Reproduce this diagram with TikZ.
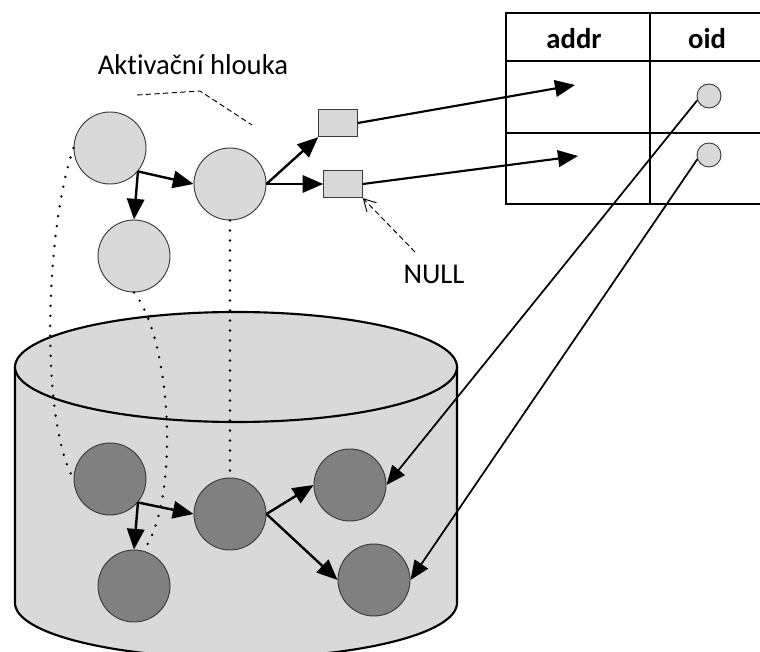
\documentclass[tikz,border=0pt]{standalone}
\usepackage{fontspec}
\setmainfont{Carlito}[Ligatures=NoCommon]
\usetikzlibrary{arrows.meta}
\definecolor{lightfill}{HTML}{D9D9D9}
\definecolor{darkfill}{HTML}{808080}
\definecolor{rim}{HTML}{3A3A3A}

\begin{document}
\begin{tikzpicture}[x=0.75pt,y=-0.75pt,
  lc/.style={circle, draw=rim, line width=0.7pt, fill=lightfill, minimum size=54pt, inner sep=0pt},
  dc/.style={lc, fill=darkfill},
  oc/.style={circle, draw=rim, line width=0.7pt, fill=lightfill, minimum size=18pt, inner sep=0pt},
  ptr/.style={rectangle, draw=rim, line width=0.7pt, fill=lightfill, minimum width=29pt, minimum height=20.5pt, inner sep=0pt},
  link/.style={line width=1.8pt, -{Triangle[length=15.5pt,width=13pt]}},
  ref/.style={line width=1.6pt, -{Triangle[length=15pt,width=12.5pt]}},
  back/.style={line width=1.3pt, -{Triangle[length=14.5pt,width=12pt]}},
  trace/.style={line width=2pt, line cap=round, dash pattern=on 0pt off 7.5pt},
  note/.style={line width=0.7pt, dash pattern=on 4pt off 2.5pt},
  lbl/.style={font=\fontsize{21.5}{26}\selectfont, inner sep=0pt},
  hdr/.style={font=\fontsize{21.5}{26}\selectfont\bfseries, inner sep=0pt},
  frame/.style={line width=1.6pt},
]
\useasboundingbox (0,0) rectangle (760,652);

% database cylinder
\fill[lightfill] (15,367) -- (15,603) arc[start angle=180,end angle=0,x radius=221,y radius=55] -- (457,367) -- cycle;
\draw[frame] (15,367) -- (15,603) arc[start angle=180,end angle=0,x radius=221,y radius=55] -- (457,367);
\filldraw[frame, fill=lightfill] (236,367) ellipse[x radius=221, y radius=55];

% table addr / oid
\draw[frame] (764,13) -- (506,13) -- (506,204) -- (764,204);
\draw[frame] (506,61) -- (764,61);
\draw[frame] (506,133) -- (764,133);
\draw[frame] (650,13) -- (650,204);
\node[hdr, anchor=base] (haddr) at (574,49) {addr};
\node[hdr, anchor=base] (hoid) at (707,49) {oid};
\node[oc] (o1) at (709,96) {};
\node[oc] (o2) at (709,155) {};
\coordinate (a1) at (575,85);
\coordinate (a2) at (578,156);

% objects in memory
\node[lc] (c1) at (110,148) {};
\node[lc] (c2) at (230,184) {};
\node[lc] (c3) at (134,256) {};
\node[ptr] (b1) at (338,123) {};
\node[ptr] (b2) at (343,184) {};

% objects in the database
\node[dc] (d1) at (110,479) {};
\node[dc] (d2) at (230,514) {};
\node[dc] (d3) at (134,586) {};
\node[dc] (d4) at (350,485) {};
\node[dc] (d5) at (374,580) {};

% correspondence between memory and database
\draw[trace] (c1.west) .. controls (45,230) and (40,420) .. (d1.west);
\draw[trace] (c3.south) .. controls (172,340) and (180,500) .. (d3.75);
\draw[trace] (c2.south) -- (d2.north);

% references in memory
\draw[link] (c1.-40) -- (c2.west);
\draw[link] (c1.-40) -- (c3.north);
\draw[link] (c2.east) -- (b1.south west);
\draw[link] (c2.east) -- (b2.west);
\draw[ref] (b1.east) -- (a1);
\draw[ref] (b2.east) -- (a2);

% references in the database
\draw[link] (d1.-40) -- (d2.west);
\draw[link] (d1.-40) -- (d3.north);
\draw[link] (d2.east) -- (d4.west);
\draw[link] (d2.east) -- (d5.west);
\draw[back] (o1.200) -- (d4.east);
\draw[back] (o2.200) -- (d5.east);

% labels
\node[lbl, anchor=base] (lab) at (193,75) {Aktivační hlouka};
\draw[note] (137,95) -- (200,91) -- (252,125);
\node[lbl, anchor=base] (null) at (434,283) {NULL};
\coordinate (nt) at (415,252);
\draw[note, -{Straight Barb[length=9pt,width=10pt]}] (nt) -- (b2.south east);
\end{tikzpicture}
\end{document}
